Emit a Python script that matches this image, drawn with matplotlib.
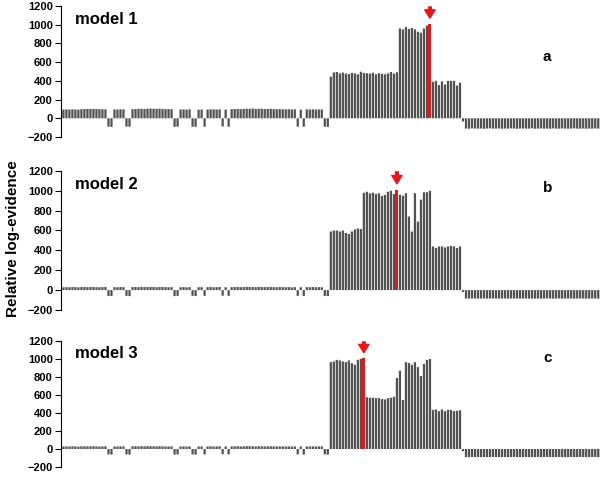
import numpy as np
import matplotlib.pyplot as plt

plt.rcParams["font.family"] = ["Liberation Sans", "DejaVu Sans"]

# low-evidence sites (indices 0-88), same layout for the three models
low_m1 = [92, 95, 94, 96, 95, 93, 97, 98, 100, 99, 101, 100, 98, 97, 96,
          -90, -92, 95, 94, 96, 95, -90, -90,
          97, 99, 101, 102, 100, 103, 104, 102, 101, 103, 100, 98, 99, 97,
          -92, -90, 94, 95, 93, 96, -90, -91, 92, 93, -90,
          94, 95, 96, 94, 95, -88, 93, -90,
          97, 99, 100, 98, 101, 103, 102, 104, 100, 101, 103, 99, 100, 102, 98, 97, 99, 96, 95, 97, 94, 96,
          -90, 92, -90, 95, 94, 96, 93, 95, 94, -90, -92]
low_m2 = [28, 30, 29, 31, 30, 28, 31, 32, 30, 31, 32, 30, 29, 30, 31,
          -58, -60, 30, 29, 31, 30, -58, -60,
          31, 32, 30, 33, 31, 32, 33, 31, 30, 32, 31, 30, 29, 30,
          -60, -58, 29, 30, 28, 30, -58, -60, 29, 30, -58,
          30, 31, 29, 30, 31, -56, 29, -58,
          30, 31, 32, 30, 31, 33, 32, 31, 30, 32, 31, 30, 31, 32, 30, 29, 31, 30, 29, 30, 28, 30,
          -58, 29, -60, 30, 29, 31, 29, 30, 29, -58, -60]
low_m3 = [27, 29, 28, 30, 29, 27, 30, 31, 29, 30, 31, 29, 28, 29, 30,
          -60, -62, 29, 28, 30, 29, -60, -62,
          30, 31, 29, 32, 30, 31, 32, 30, 29, 31, 30, 29, 28, 29,
          -62, -60, 28, 29, 27, 29, -60, -62, 28, 29, -60,
          29, 30, 28, 29, 30, -58, 28, -60,
          29, 30, 31, 29, 30, 32, 31, 30, 29, 31, 30, 29, 30, 31, 29, 28, 30, 29, 28, 29, 27, 29,
          -60, 28, -62, 29, 28, 30, 28, 29, 28, -60, -62]

# high-evidence region (indices 89-132)
mid_m1 = [445, 490, 495, 480, 488, 478, 472, 485, 480, 470, 498, 485, 482, 478, 487, 470, 482, 476, 470, 480, 495, 478, 492,
          960, 950, 975, 955, 965, 950, 925, 915, 960, 990,
          1010,
          390, 400, 355, 395, 360, 400, 400, 400, 350, 380]
mid_m2 = [590, 600, 600, 590, 600, 575, 565, 590, 610, 620, 615,
          980, 990, 974, 980, 967, 974, 947, 957, 990, 1000, 967,
          1010,
          960, 950, 975, 740, 590, 975, 690, 910, 985, 985, 1000,
          440, 425, 440, 440, 430, 440, 445, 440, 425, 440]
mid_m3 = [966, 973, 991, 984, 973, 966, 984, 954, 936, 991, 1002,
          1010,
          575, 570, 570, 565, 565, 555, 550, 565, 570, 580, 790, 870, 545,
          965, 955, 935, 965, 910, 810, 945, 990, 1000,
          435, 440, 420, 440, 420, 435, 435, 420, 425, 430]

# negative tail (indices 133-178)
neg_m1 = [-35, -110, -112, -108, -110, -111, -109, -112, -110, -108, -111, -110, -109, -112, -110, -111,
          -108, -110, -112, -109, -110, -111, -110, -108, -112, -110, -109, -111, -110, -112, -108,
          -110, -111, -109, -110, -112, -110, -108, -111, -110, -109, -112, -110, -111, -109, -110]
neg_m2 = [-20, -85, -86, -84, -85, -86, -85, -84, -86, -85, -84, -85, -86, -85, -84, -86,
          -85, -84, -85, -86, -85, -84, -86, -85, -85, -84, -86, -85, -84, -85, -86,
          -85, -84, -86, -85, -85, -84, -86, -85, -84, -85, -86, -85, -84, -85, -86]
neg_m3 = [-25, -90, -91, -89, -90, -91, -90, -89, -91, -90, -89, -90, -91, -90, -89, -91,
          -90, -89, -90, -91, -90, -89, -91, -90, -90, -89, -91, -90, -89, -90, -91,
          -90, -89, -91, -90, -90, -89, -91, -90, -89, -90, -91, -90, -89, -90, -91]

best_idx = [122, 111, 100]
models = ["model 1", "model 2", "model 3"]
letters = ["a", "b", "c"]
letter_y = [654, 1027, 1013]
series = [low_m1 + mid_m1 + neg_m1, low_m2 + mid_m2 + neg_m2, low_m3 + mid_m3 + neg_m3]

# axes boxes in figure fraction (left, bottom, width, height)
boxes = [(0.1008, 0.7134, 0.891, 0.274),
         (0.1008, 0.3515, 0.891, 0.291),
         (0.1008, 0.0230, 0.891, 0.2636)]

fig = plt.figure(figsize=(6.05, 4.78), dpi=100)
for vals, best, name, let, ly, box in zip(series, best_idx, models, letters, letter_y, boxes):
    ax = fig.add_axes(box)
    vals = np.array(vals, dtype=float)
    x = np.arange(len(vals))
    grey = np.ones(len(vals), bool)
    grey[best] = False
    bars = ax.bar(x[grey], vals[grey], width=0.75, color="#525252", linewidth=0)
    for b in bars:
        b.set_snap(False)
    ax.bar(x[best], vals[best], width=1.0, color="#e3191c", linewidth=0)
    ax.annotate("", xy=(x[best], vals[best] + 60), xytext=(x[best], vals[best] + 180),
                arrowprops=dict(facecolor="#e3191c", edgecolor="#e3191c", width=2.0,
                                headwidth=7.5, headlength=6, shrink=0),
                annotation_clip=False)
    ax.set_xlim(-0.8, 178.6)
    ax.set_ylim(-200, 1200)
    ax.set_yticks(np.arange(-200, 1201, 200))
    ax.set_xticks([])
    for s in ["top", "right", "bottom"]:
        ax.spines[s].set_visible(False)
    ax.spines["left"].set_linewidth(0.8)
    ax.tick_params(axis="y", length=4, width=0.8, labelsize=8, pad=2)
    for lab in ax.get_yticklabels():
        lab.set_fontweight("bold")
    ax.patch.set_visible(False)
    ax.text(4, 1060, name, fontsize=12, fontweight="bold", ha="left", va="center")
    ax.text(161, ly, let, fontsize=11, fontweight="bold", ha="center", va="center")

fig.text(0.022, 0.5, "Relative log-evidence", rotation=90, fontsize=11,
         fontweight="bold", ha="center", va="center")
fig.savefig("out.png", dpi=100)
